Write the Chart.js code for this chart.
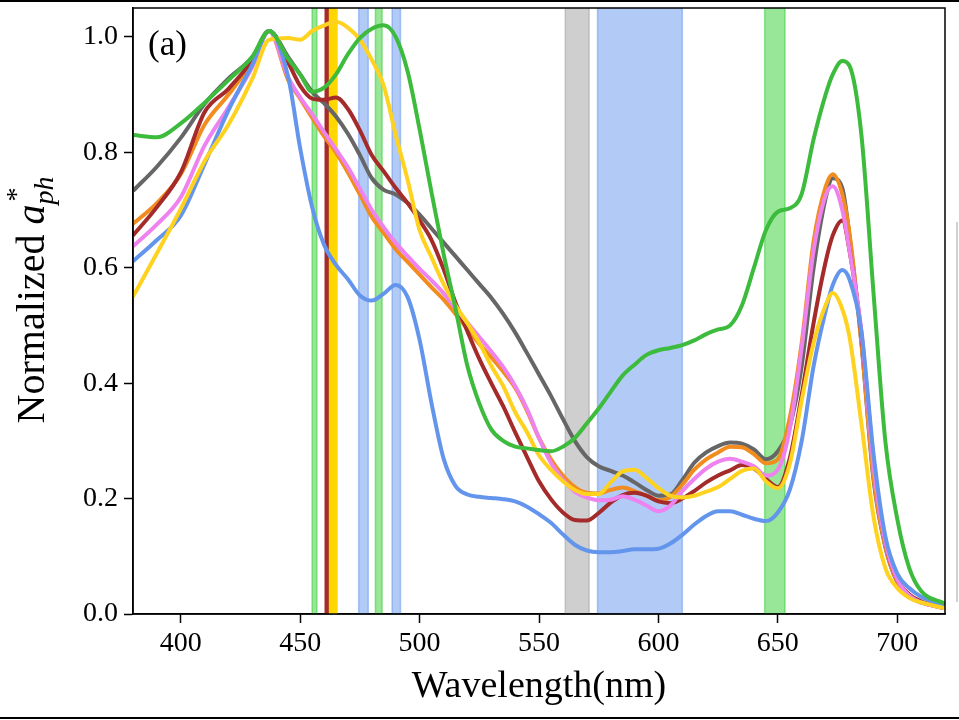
<!DOCTYPE html>
<html>
<head>
<meta charset="utf-8">
<script src="https://cdn.jsdelivr.net/npm/chart.js@4"></script>
<style>
  html, body { margin: 0; padding: 0; background: #fff; }
  #wrap { position: relative; width: 959px; height: 720px; overflow: hidden; }
  .rule { position: absolute; left: 0; width: 959px; height: 2px; background: #000; }
  .edge { position: absolute; left: 956px; top: 222px; width: 2px; height: 380px; background: #d0d0d0; }
</style>
</head>
<body>
<div id="wrap">
  <canvas id="myChart" width="959" height="720"></canvas>
  <div class="rule" style="top:0"></div>
  <div class="rule" style="top:717px"></div>
  <div class="edge"></div>
</div>
<script>
  // wavelength grid (nm)
  const wavelength = [380, 390, 400, 410, 420, 430, 437, 445, 450, 455, 460, 465, 470, 475, 480, 485, 490, 495,
    500, 505, 510, 515, 520, 525, 530, 535, 540, 545, 550, 555, 560, 565, 570, 575, 580, 585, 590, 595,
    600, 605, 610, 615, 620, 625, 630, 635, 640, 645, 650, 655, 660, 665, 670, 673, 677, 680, 685, 690,
    695, 700, 705, 710, 720];

  const green = [.830, .826, .850, .886, .925, .966, 1.010, .962, .935, .905, .912, .935, .970, .998, 1.014, 1.020, 1.000, .940,
    .840, .730, .625, .530, .430, .365, .320, .300, .290, .287, .284, .282, .290, .305, .330, .356, .385, .413, .432, .449,
    .457, .461, .466, .474, .485, .493, .500, .535, .600, .665, .697, .703, .728, .823, .900, .935, .958, .950, .830, .560,
    .300, .165, .080, .040, .018];

  const gray = [.733, .775, .825, .884, .928, .965, 1.010, .965, .935, .905, .885, .862, .832, .795, .755, .735, .727, .712,
    .692, .668, .644, .620, .596, .572, .548, .520, .488, .452, .415, .378, .338, .300, .272, .256, .248, .240, .228, .215,
    .205, .207, .232, .262, .280, .291, .297, .295, .285, .268, .282, .325, .430, .600, .720, .755, .738, .655, .470, .235,
    .116, .055, .030, .020, .010];

  const orange = [.676, .712, .762, .848, .900, .958, 1.010, .925, .893, .860, .828, .800, .765, .727, .688, .660, .632, .610,
    .588, .566, .545, .520, .494, .468, .445, .420, .392, .352, .305, .268, .240, .220, .210, .209, .215, .219, .213, .205,
    .197, .203, .224, .250, .268, .280, .290, .289, .277, .261, .268, .340, .470, .646, .740, .762, .727, .660, .470, .240,
    .118, .056, .030, .020, .010];

  const pink = [.637, .675, .722, .812, .878, .948, 1.010, .930, .895, .866, .835, .805, .774, .737, .700, .670, .643, .620,
    .598, .578, .556, .530, .505, .480, .455, .428, .395, .355, .305, .262, .233, .212, .202, .197, .198, .204, .198, .188,
    .178, .188, .213, .234, .252, .264, .269, .264, .256, .240, .250, .320, .462, .630, .725, .741, .700, .630, .490, .260,
    .125, .060, .032, .020, .010];

  const darkred = [.656, .705, .765, .870, .910, .960, 1.010, .955, .915, .893, .891, .895, .875, .838, .795, .767, .738, .712,
    .682, .648, .598, .540, .490, .442, .400, .360, .315, .272, .230, .199, .176, .163, .162, .175, .193, .206, .210, .205,
    .195, .192, .200, .213, .228, .240, .249, .258, .252, .234, .220, .270, .380, .505, .610, .656, .682, .630, .484, .270,
    .125, .060, .034, .022, .010];

  const blue = [.611, .648, .690, .780, .873, .952, 1.010, .930, .807, .705, .640, .605, .580, .552, .543, .555, .570, .549,
    .475, .365, .270, .222, .207, .203, .201, .199, .195, .186, .173, .158, .138, .120, .110, .107, .107, .109, .112, .112,
    .113, .122, .137, .155, .170, .178, .178, .172, .165, .161, .176, .215, .300, .430, .525, .570, .596, .580, .490, .280,
    .135, .070, .045, .030, .015];

  const yellow = [.550, .625, .702, .785, .848, .928, .995, .998, .995, 1.010, 1.020, 1.026, 1.016, .995, .960, .915, .830, .752,
    .665, .618, .572, .535, .504, .470, .430, .395, .350, .315, .275, .250, .230, .215, .208, .208, .228, .247, .250, .236,
    .218, .205, .202, .205, .212, .220, .234, .248, .252, .230, .218, .260, .370, .470, .535, .556, .528, .480, .330, .170,
    .080, .045, .028, .020, .010];

  // shaded wavelength bands (nm)
  const bandFrom = [455, 460.5, 462.3, 474.5, 481.5, 488.5, 561, 574.5, 644.5];
  const bandTo   = [457, 462.3, 465.4, 478.5, 484.3, 492,   571, 610,   653];
  const bandColor = ['rgba(50,205,50,0.5)', '#a52a2a', '#ffd700', 'rgba(100,149,237,0.5)', 'rgba(50,205,50,0.5)',
    'rgba(100,149,237,0.5)', 'rgba(160,160,160,0.5)', 'rgba(100,149,237,0.5)', 'rgba(50,205,50,0.5)'];

  const xTicks = [400, 450, 500, 550, 600, 650, 700];
  const yTicks = [0, 0.2, 0.4, 0.6, 0.8, 1.0];

  const serif = '"Liberation Serif", "DejaVu Serif", serif';

  function series(values, color) {
    return {
      data: values.map((v, i) => ({ x: wavelength[i], y: v })),
      borderColor: color,
      borderWidth: 4,
      pointRadius: 0,
      fill: false,
      cubicInterpolationMode: 'monotone'
    };
  }

  const bands = {
    id: 'bands',
    beforeDatasetsDraw(chart) {
      const { ctx, chartArea: a, scales: { x } } = chart;
      ctx.save();
      ctx.beginPath();
      ctx.rect(a.left, a.top, a.width, a.height);
      ctx.clip();
      bandFrom.forEach((from, i) => {
        const x0 = x.getPixelForValue(from);
        const x1 = x.getPixelForValue(bandTo[i]);
        ctx.fillStyle = bandColor[i];
        ctx.fillRect(x0, a.top, x1 - x0, a.height);
        ctx.strokeStyle = bandColor[i];
        ctx.lineWidth = 1.5;
        ctx.strokeRect(x0, a.top - 2, x1 - x0, a.height + 4);
      });
      ctx.restore();
    }
  };

  const frame = {
    id: 'frame',
    afterDraw(chart) {
      const { ctx, chartArea: a } = chart;
      ctx.save();
      ctx.strokeStyle = '#000';
      ctx.lineWidth = 1.5;
      ctx.strokeRect(a.left, a.top, a.width, a.height);

      ctx.fillStyle = '#000';
      ctx.textBaseline = 'alphabetic';
      ctx.font = '35px ' + serif;
      ctx.fillText('(a)', a.left + 15, a.top + 47);

      // y title: Normalized a*_ph
      const big = '40px ' + serif, bigIt = 'italic 40px ' + serif;
      const small = '28px ' + serif, smallIt = 'italic 28px ' + serif;
      ctx.font = big;
      const w1 = ctx.measureText('Normalized ').width;
      ctx.font = bigIt;
      const w2 = ctx.measureText('a').width;
      ctx.font = smallIt;
      const w3 = ctx.measureText('ph').width;
      const total = w1 + w2 + w3;
      ctx.translate(44, 300);
      ctx.rotate(-Math.PI / 2);
      const x0 = -total / 2;
      ctx.font = big;
      ctx.fillText('Normalized ', x0, 0);
      ctx.font = bigIt;
      ctx.fillText('a', x0 + w1, 0);
      ctx.font = small;
      ctx.fillText('*', x0 + w1 + w2 + 3, -19);
      ctx.font = smallIt;
      ctx.fillText('ph', x0 + w1 + w2, 9);
      ctx.restore();
    }
  };

  const config = {
    type: 'line',
    data: {
      datasets: [
        series(green, '#3dbb3d'),
        series(yellow, '#ffd21f'),
        series(blue, '#6495ed'),
        series(pink, '#ee82ee'),
        series(darkred, '#a52a2a'),
        series(orange, '#f28c1e'),
        series(gray, '#666666')
      ]
    },
    options: {
      responsive: false,
      animation: false,
      devicePixelRatio: 1,
      layout: { padding: { top: 8, right: 14, bottom: 0, left: 0 } },
      plugins: { legend: { display: false }, tooltip: { enabled: false } },
      scales: {
        x: {
          type: 'linear',
          min: 380,
          max: 720,
          afterBuildTicks: s => { s.ticks = xTicks.map(v => ({ value: v })); },
          afterFit: s => { s.height = 106; s.paddingLeft = 0; s.paddingRight = 0; },
          grid: { drawOnChartArea: false, tickLength: 9, tickColor: '#000', tickWidth: 1.5 },
          border: { color: '#000', width: 1.5 },
          ticks: { color: '#000', padding: 4, maxRotation: 0, font: { family: serif, size: 28 } },
          title: { display: true, text: 'Wavelength(nm)', color: '#000', padding: { top: 0, bottom: 10 },
            font: { family: serif, size: 38 } }
        },
        y: {
          min: 0,
          max: 1.05,
          afterBuildTicks: s => { s.ticks = yTicks.map(v => ({ value: v })); },
          afterFit: s => { s.width = 133; s.paddingTop = 0; s.paddingBottom = 0; },
          grid: { drawOnChartArea: false, tickLength: 9, tickColor: '#000', tickWidth: 1.5 },
          border: { color: '#000', width: 1.5 },
          ticks: { color: '#000', padding: 6, font: { family: serif, size: 28 },
            callback: v => v.toFixed(1) }
        }
      }
    },
    plugins: [bands, frame]
  };

  const myChart = new Chart(
    document.getElementById('myChart'),
    config
  );
</script>
</body>
</html>
